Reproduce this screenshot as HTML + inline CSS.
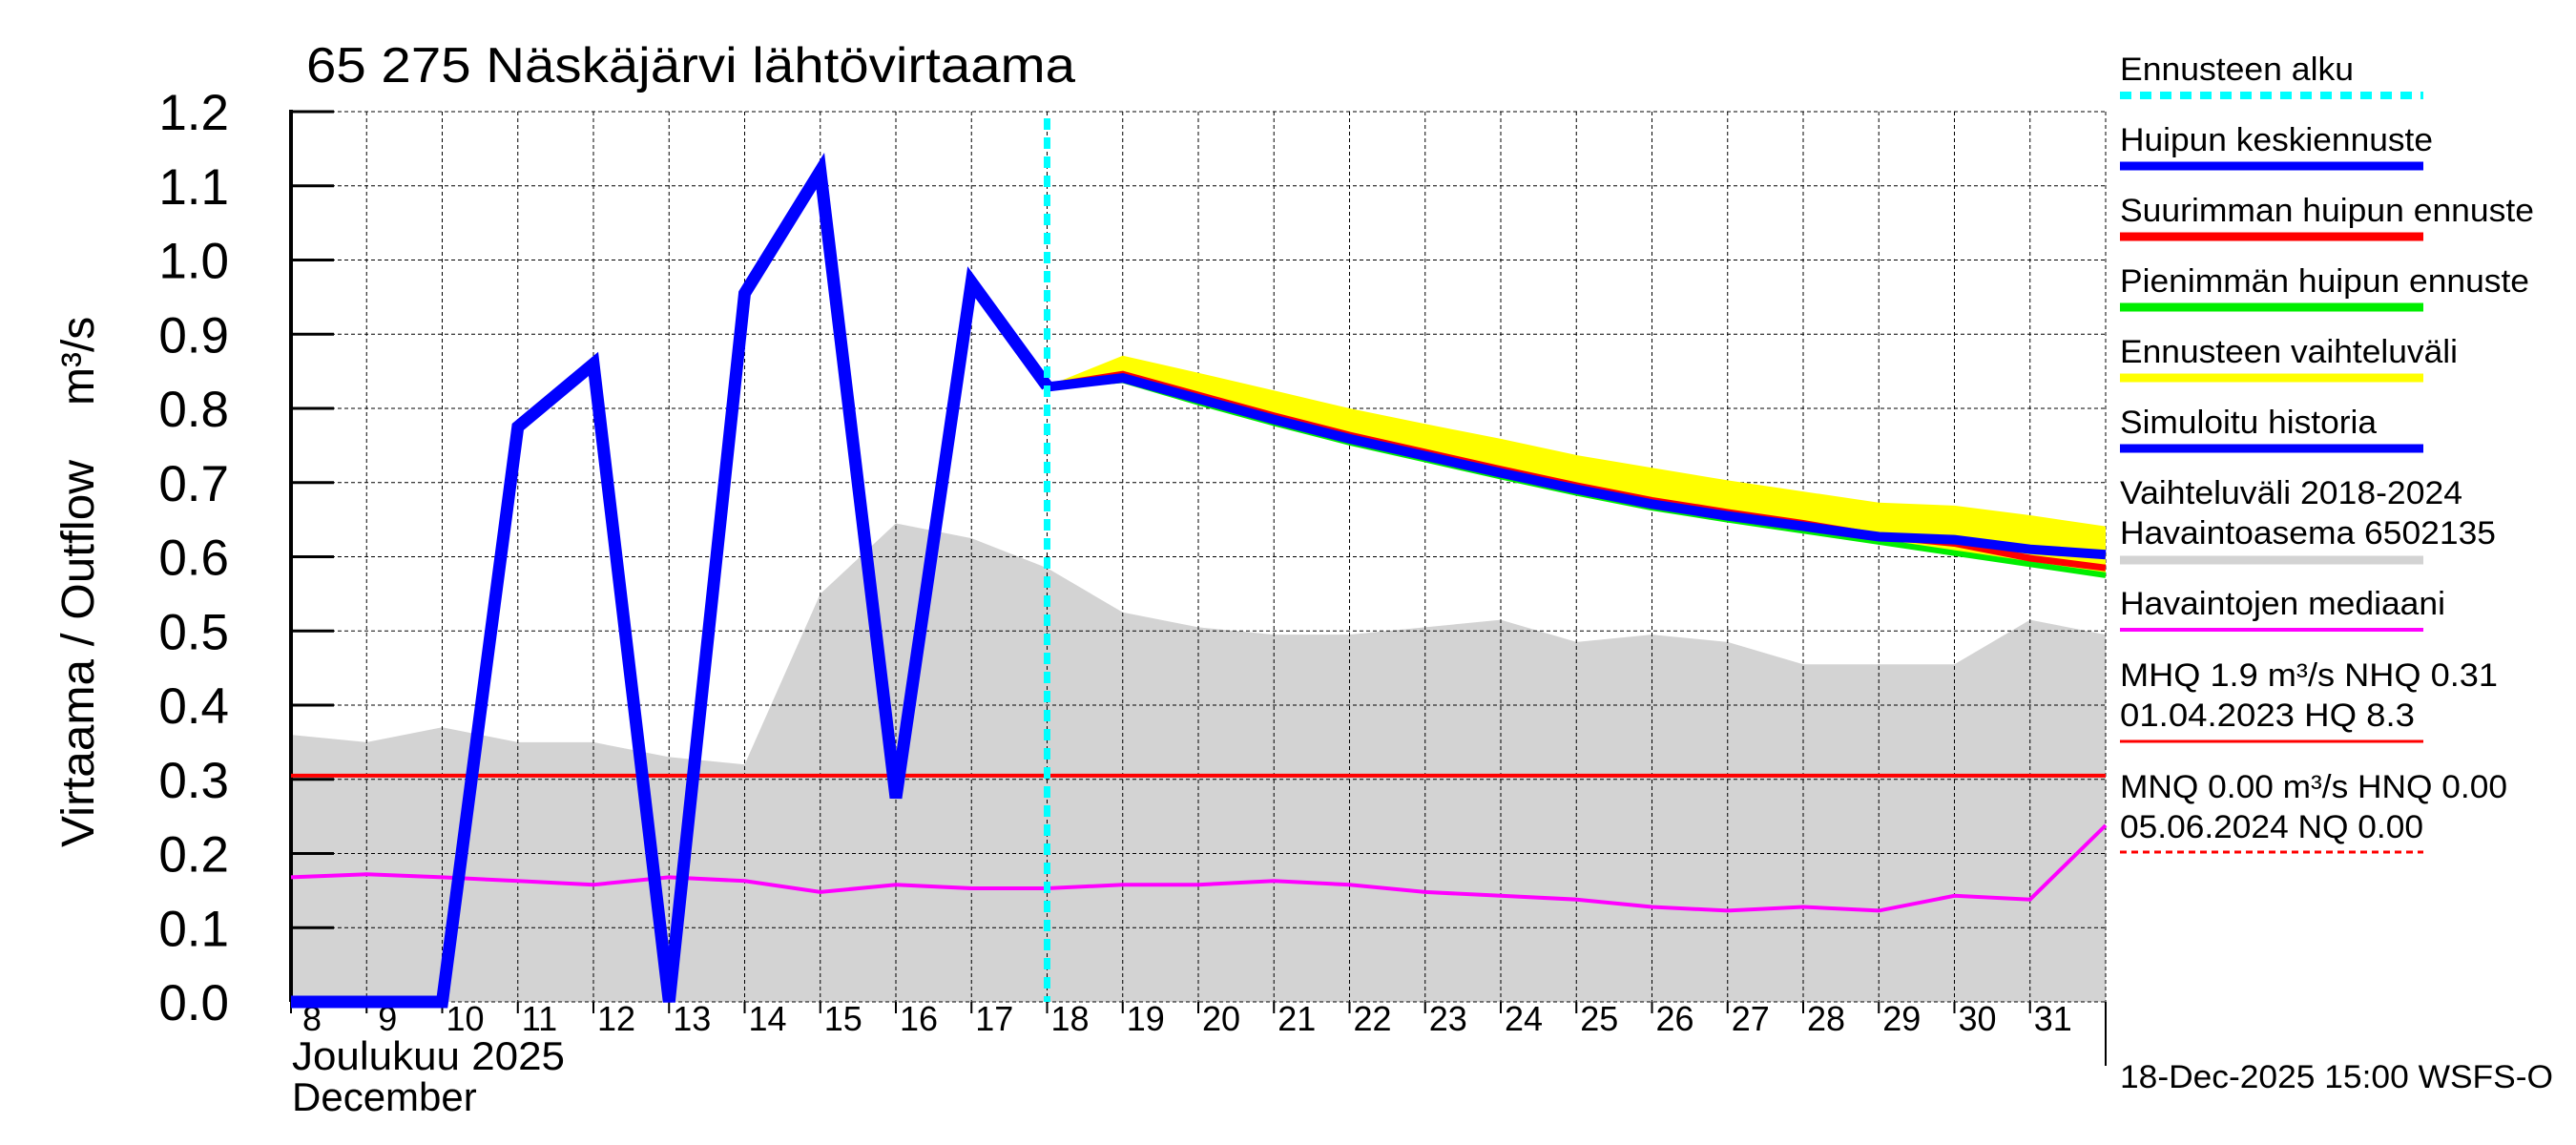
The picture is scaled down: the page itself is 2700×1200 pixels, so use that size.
<!DOCTYPE html>
<html><head><meta charset="utf-8"><style>
html,body{margin:0;padding:0;background:#fff;}
svg{display:block;}
text{font-family:"Liberation Sans",sans-serif;fill:#000;}
.n{font-family:"Liberation Sans Narrow","Liberation Sans",sans-serif;}
</style></head><body>
<svg id="chart" width="2700" height="1200" viewBox="0 0 2700 1200" xmlns="http://www.w3.org/2000/svg">
<text x="321" y="86" font-size="52" textLength="806" lengthAdjust="spacingAndGlyphs">65 275 Näskäjärvi lähtövirtaama</text>
<g id="plot"></g>
<text transform="translate(98,888) rotate(-90)" font-size="48" textLength="406" lengthAdjust="spacingAndGlyphs">Virtaama / Outflow</text>
<text transform="translate(98,425) rotate(-90)" font-size="48">m³/s</text>
<text x="306" y="1121" font-size="42" textLength="286" lengthAdjust="spacingAndGlyphs">Joulukuu  2025</text>
<text x="306" y="1164" font-size="42">December</text>
<g id="legend"></g>
<text class="n" x="2222" y="1140" font-size="34" textLength="454" lengthAdjust="spacingAndGlyphs">18-Dec-2025 15:00 WSFS-O</text>
<line x1="2207" y1="1050" x2="2207" y2="1117" stroke="#000" stroke-width="2"/>
</svg>
<script>
const yTicks = [0,0.1,0.2,0.3,0.4,0.5,0.6,0.7,0.8,0.9,1.0,1.1,1.2];
const dayLabels = [8,9,10,11,12,13,14,15,16,17,18,19,20,21,22,23,24,25,26,27,28,29,30,31];
const bandDays = [8,9,10,11,12,13,14,15,16,17,18,19,20,21,22,23,24,25,26,27,28,29,30,31,32];
const bandUpper = [0.36,0.35,0.37,0.35,0.35,0.33,0.32,0.55,0.645,0.625,0.585,0.525,0.505,0.495,0.495,0.505,0.515,0.485,0.495,0.485,0.455,0.455,0.455,0.515,0.495];
const median = [0.168,0.172,0.168,0.163,0.158,0.168,0.163,0.148,0.158,0.153,0.153,0.158,0.158,0.163,0.158,0.148,0.143,0.138,0.128,0.123,0.128,0.123,0.143,0.138,0.238];
const histDays = [8,9,10,11,12,13,14,15,16,17,18];
const histValues = [0,0,0,0.775,0.86,0,0.955,1.12,0.275,0.97,0.83];
const fcDays = [18,19,20,21,22,23,24,25,26,27,28,29,30,31,32];
const fcUpper = [0.83,0.871,0.848,0.824,0.80,0.779,0.759,0.737,0.72,0.703,0.688,0.673,0.669,0.656,0.641];
const fcLower = [0.83,0.838,0.808,0.78,0.754,0.731,0.708,0.686,0.666,0.65,0.635,0.62,0.605,0.59,0.575];
const fcMax = [0.83,0.846,0.818,0.79,0.764,0.741,0.718,0.696,0.676,0.66,0.645,0.628,0.618,0.598,0.585];
const fcMin = [0.83,0.838,0.808,0.78,0.754,0.731,0.708,0.686,0.666,0.65,0.635,0.62,0.605,0.59,0.575];
const fcMean = [0.829,0.841,0.813,0.785,0.759,0.736,0.713,0.691,0.671,0.655,0.641,0.627,0.623,0.61,0.603];
const forecastStart = 18;
const nhq = 0.305;

const NS='http://www.w3.org/2000/svg';
const X0=305, X1=2207, Y0=1050, Y1=117;
const xs=d=>X0+(d-8)*(X1-X0)/24;
const ys=v=>Y0-v*(Y0-Y1)/1.2;
const plot=document.getElementById('plot');
function mk(tag,attrs,parent){const e=document.createElementNS(NS,tag);for(const k in attrs)e.setAttribute(k,attrs[k]);(parent||plot).appendChild(e);return e;}
function pts(days,vals){return days.map((d,i)=>xs(d).toFixed(1)+','+ys(vals[i]).toFixed(1)).join(' ');}

let e=mk('polygon',{points:pts(bandDays,bandUpper)+' '+xs(32)+','+Y0+' '+xs(8)+','+Y0,fill:'#d3d3d3'});


yTicks.forEach(v=>{
  const g=mk('line',{x1:X0,x2:X1,y1:ys(v),y2:ys(v),stroke:'#000','stroke-width':1,'stroke-dasharray':'4,3'});
  
  
  const t=mk('line',{x1:X0,x2:X0+45,y1:ys(v),y2:ys(v),stroke:'#000','stroke-width':3});
  
  
  const l=mk('text',{x:240,y:ys(v)+19,'font-size':53,'text-anchor':'end'});
  l.textContent=v.toFixed(1);
  
  
});
dayLabels.forEach(d=>{
  const g=mk('line',{x1:xs(d),x2:xs(d),y1:Y1,y2:Y0,stroke:'#000','stroke-width':1,'stroke-dasharray':'4,3'});
  
  
  const t=mk('line',{x1:xs(d),x2:xs(d),y1:Y0,y2:Y0+12,stroke:'#000','stroke-width':2});
  
  
  const l=mk('text',{x:xs(d)+(d<10?12:4),y:1080,'font-size':36});
  l.textContent=d;
  
  
});
e=mk('line',{x1:X1,x2:X1,y1:Y1,y2:Y0,stroke:'#000','stroke-width':1,'stroke-dasharray':'4,3'});


e=mk('line',{x1:X0,x2:X0,y1:Y1-2,y2:Y0,stroke:'#000','stroke-width':4});


e=mk('line',{x1:X0,x2:X1,y1:ys(nhq),y2:ys(nhq),stroke:'#ff0000','stroke-width':4});


e=mk('polyline',{points:pts(bandDays,median),fill:'none',stroke:'#ff00ff','stroke-width':4});


e=mk('polygon',{points:pts(fcDays,fcUpper)+' '+pts(fcDays.slice().reverse(),fcLower.slice().reverse()),fill:'#ffff00'});


e=mk('polyline',{points:pts(fcDays,fcMin),fill:'none',stroke:'#00ee00','stroke-width':6});


e=mk('polyline',{points:pts(fcDays,fcMax),fill:'none',stroke:'#ff0000','stroke-width':7});


e=mk('polyline',{points:pts(fcDays,fcMean),fill:'none',stroke:'#0000ff','stroke-width':10});


e=mk('polyline',{points:pts(histDays,histValues),fill:'none',stroke:'#0000ff','stroke-width':13,'stroke-linejoin':'miter'});


e=mk('line',{x1:xs(forecastStart),x2:xs(forecastStart),y1:Y1+7,y2:Y0,stroke:'#00ffff','stroke-width':7,'stroke-dasharray':'12,8'});



const leg=document.getElementById('legend');
const LX=2222, LX2=2540;
function lt(txt,y,w,name){const t=mk('text',{x:LX,y:y,'font-size':34,class:'n',textLength:w,lengthAdjust:'spacingAndGlyphs'},leg);t.textContent=txt;}
function ll(y,color,w,dash,name){const l=mk('line',{x1:LX,x2:LX2,y1:y,y2:y,stroke:color,'stroke-width':w},leg);if(dash)l.setAttribute('stroke-dasharray',dash);}
lt('Ennusteen alku',84,245,'legend-forecast-start-label');ll(100,'#00ffff',8,'12,9','legend-forecast-start-swatch');
lt('Huipun keskiennuste',158,328,'legend-mean-forecast-label');ll(174,'#0000ff',9,null,'legend-mean-forecast-swatch');
lt('Suurimman huipun ennuste',232,434,'legend-max-forecast-label');ll(248,'#ff0000',9,null,'legend-max-forecast-swatch');
lt('Pienimmän huipun ennuste',306,429,'legend-min-forecast-label');ll(322,'#00ee00',9,null,'legend-min-forecast-swatch');
lt('Ennusteen vaihteluväli',380,354,'legend-forecast-range-label');ll(396,'#ffff00',9,null,'legend-forecast-range-swatch');
lt('Simuloitu historia',454,269,'legend-history-label');ll(470,'#0000ff',9,null,'legend-history-swatch');
lt('Vaihteluväli 2018-2024',528,359,'legend-range-label');
lt('Havaintoasema 6502135',570,394,'legend-station-label');ll(587,'#d3d3d3',9,null,'legend-range-swatch');
lt('Havaintojen mediaani',644,341,'legend-median-label');ll(660,'#ff00ff',4,null,'legend-median-swatch');
lt('MHQ  1.9 m³/s NHQ 0.31',719,396,'legend-mhq-label');
lt('01.04.2023 HQ  8.3',761,309,'legend-hq-label');ll(777,'#ff0000',3,null,'legend-nhq-swatch');
lt('MNQ 0.00 m³/s HNQ 0.00',836,406,'legend-mnq-label');
lt('05.06.2024 NQ 0.00',878,318,'legend-nq-label');ll(893,'#ff0000',3,'7,5','legend-nq-swatch');
</script>
</body></html>
